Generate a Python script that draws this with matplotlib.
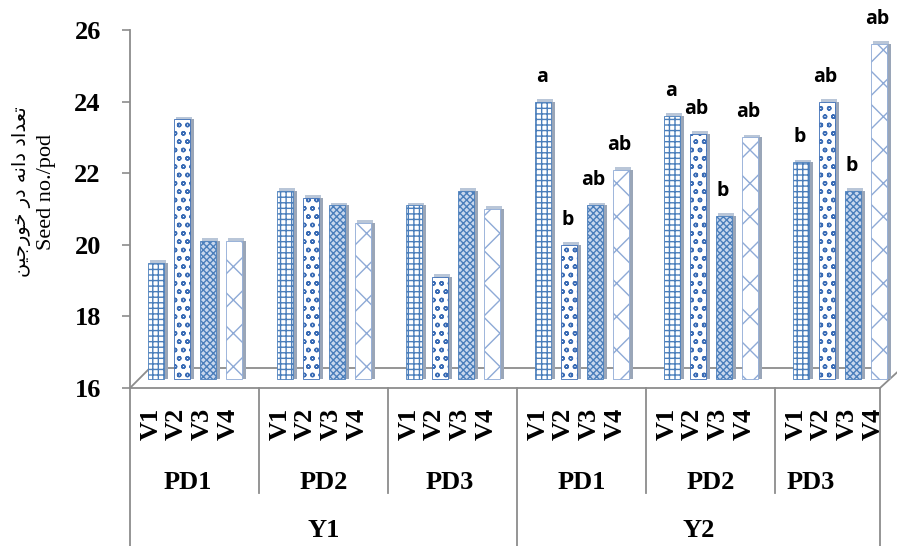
import numpy as np
import matplotlib.pyplot as plt

years = ['Y1', 'Y2']
dates = ['PD1', 'PD2', 'PD3', 'PD1', 'PD2', 'PD3']
varieties = ['V1', 'V2', 'V3', 'V4']

# seed no./pod, one list per variety, in order Y1 PD1..PD3, Y2 PD1..PD3
v1 = [19.5, 21.5, 21.1, 24.0, 23.6, 22.3]
v2 = [23.5, 21.3, 19.1, 20.0, 23.1, 24.0]
v3 = [20.1, 21.1, 21.5, 21.1, 20.8, 21.5]
v4 = [20.1, 20.6, 21.0, 22.1, 23.0, 25.6]

# mean comparison letters (only given for Y2)
let1 = ['', '', '', 'a', 'a', 'b']
let2 = ['', '', '', 'b', 'ab', 'ab']
let3 = ['', '', '', 'ab', 'b', 'b']
let4 = ['', '', '', 'ab', 'ab', 'ab']

series = [v1, v2, v3, v4]
letters = [let1, let2, let3, let4]

# pattern per variety: (face, hatch colour, hatch)
styles = [('white', '#4a7ebb', '+++'),
          ('white', '#3a6cb5', 'oo'),
          ('#c9d8ee', '#4a7ebb', 'xxxxx'),
          ('white', '#8eaad6', 'x')]

grey = '#8c8c8c'
plt.rcParams['hatch.linewidth'] = 1.0

fig = plt.figure(figsize=(8.97, 5.46), dpi=100)
ax = fig.add_axes([130 / 897, 1 - 388 / 546, 750 / 897, 358 / 546])

grp = np.arange(len(dates))
floor = 16.25
w = 0.124
for i, vals in enumerate(series):
    fc, hc, hatch = styles[i]
    x = grp + 0.2016 + 0.2016 * i
    h = np.array(vals) - floor
    # side face of the pseudo 3d column
    ax.bar(x + w / 2 + 0.016, h, width=0.032, bottom=floor, color='#9aa6b8',
           edgecolor='none', zorder=2, clip_on=False)
    ax.bar(x, h, width=w, bottom=floor, color=fc, edgecolor=hc, hatch=hatch,
           linewidth=0.6, zorder=3, clip_on=False)
    # top face
    ax.bar(x + 0.016, 0.12, width=w, bottom=np.array(vals) - 0.04,
           color='#b9c6d8', edgecolor='none', zorder=1, clip_on=False)
    for xi, yi, t in zip(x, vals, letters[i]):
        if t:
            ax.annotate(t, (xi, yi), xytext=(-1, 18), textcoords='offset points',
                        ha='center', va='center', fontsize=14, fontweight='bold',
                        family='Open Sans', zorder=5, annotation_clip=False)

xmax = 750 / 129
ax.set_xlim(0, xmax)
ax.set_ylim(16, 26)
ax.set_yticks([16, 18, 20, 22, 24, 26])
ax.set_xticks([])
ax.tick_params(axis='y', direction='out', length=6, width=1.2, color=grey, pad=15)
for lab in ax.get_yticklabels():
    lab.set_family('Liberation Serif')
    lab.set_fontweight('bold')
    lab.set_fontsize(19)

for s in ['top', 'right']:
    ax.spines[s].set_visible(False)
for s in ['left', 'bottom']:
    ax.spines[s].set_color(grey)
    ax.spines[s].set_linewidth(1.3)

# floor of the 3d chart
back = 16.56
ax.plot([0, 0.155], [16, back], color=grey, lw=1.3, clip_on=False, zorder=1)
ax.plot([0.155, 5.89], [back, back], color=grey, lw=1.3, clip_on=False, zorder=0)
ax.plot([xmax, 5.95], [16, 16.45], color=grey, lw=1.3, clip_on=False, zorder=1)

# category table under the axis
tr = ax.get_xaxis_transform()
for g in grp:
    for i, v in enumerate(varieties):
        ax.text(g + (21 + 25.7 * i) / 129, -0.1, v, transform=tr, rotation=90,
                ha='center', va='center', fontsize=19, fontweight='bold',
                family='Liberation Serif', zorder=6)
pd_x = [0.45, 1.5, 2.48, 3.5, 4.5, 5.28]
for xi, d in zip(pd_x, dates):
    ax.text(xi, -0.265, d, transform=tr, ha='center', va='center', fontsize=19,
            fontweight='bold', family='Liberation Serif')
for xi, y in zip([1.5, (3 + xmax) / 2], years):
    ax.text(xi, -0.397, y, transform=tr, ha='center', va='center', fontsize=19,
            fontweight='bold', family='Liberation Serif')
for g in [1, 2, 4, 5]:
    ax.plot([g, g], [0, -0.293], transform=tr, color=grey, lw=1.3, clip_on=False)
for g in [0, 3, xmax]:
    ax.plot([g, g], [0, -0.45], transform=tr, color=grey, lw=1.3, clip_on=False)

# y label, Persian line written in shaped visual order
fig.text(22 / 897, 1 - 192 / 546, 'ﻦﻴﺟﺭﻮﺧ ﺭﺩ ﻪﻧﺍﺩ ﺩﺍﺪﻌﺗ', rotation=90, ha='center',
         va='center', fontsize=14, family='DejaVu Sans')
fig.text(46 / 897, 1 - 192 / 546, 'Seed no./pod', rotation=90, ha='center',
         va='center', fontsize=16, family='Liberation Serif')

fig.savefig('out.png', dpi=100)
